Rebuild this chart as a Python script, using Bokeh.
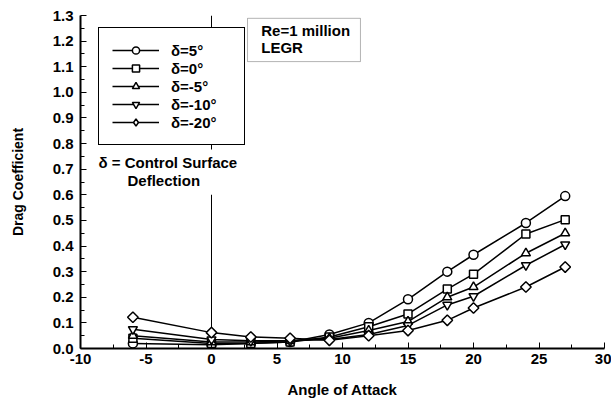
from bokeh.plotting import figure
from bokeh.models import (Range1d, FixedTicker, PrintfTickFormatter, Span, Label,
                          BoxAnnotation, Legend, LegendItem)
from bokeh.embed import file_html
from bokeh.resources import INLINE
import math

# ---- data ----
angle = [-6, 0, 3, 6, 9, 12, 15, 18, 20, 24, 27]
cd_d5 = [0.020, 0.015, 0.020, 0.025, 0.055, 0.100, 0.192, 0.300, 0.366, 0.490, 0.595]
cd_d0 = [0.040, 0.020, 0.020, 0.025, 0.045, 0.085, 0.135, 0.232, 0.290, 0.447, 0.503]
cd_dm5 = [0.050, 0.025, 0.025, 0.030, 0.040, 0.070, 0.105, 0.200, 0.240, 0.372, 0.450]
cd_dm10 = [0.075, 0.035, 0.030, 0.030, 0.035, 0.055, 0.090, 0.170, 0.204, 0.325, 0.406]
cd_dm20 = [0.122, 0.062, 0.045, 0.040, 0.032, 0.050, 0.070, 0.110, 0.158, 0.240, 0.318]

series_labels = ["δ=5°", "δ=0°", "δ=-5°", "δ=-10°", "δ=-20°"]
series_values = [cd_d5, cd_d0, cd_dm5, cd_dm10, cd_dm20]
series_markers = ["circle", "square", "triangle", "inverted_triangle", "square"]
series_angles = [0, 0, 0, 0, math.pi / 4]
series_sizes = [9, 8, 9, 9, 7.5]
legend_markers = ["circle", "square", "triangle", "inverted_triangle", "diamond"]

y_ticks = [0.0, 0.1, 0.2, 0.3, 0.4, 0.5, 0.6, 0.7, 0.8, 0.9, 1.0, 1.1, 1.2, 1.3]
y_minor = [0.05, 0.15, 0.25, 0.35, 0.45, 0.55, 0.65, 0.75, 0.85, 0.95, 1.05, 1.15, 1.25]
x_ticks = [-10, -5, 0, 5, 10, 15, 20, 25, 30]
x_minor = [-7.5, -2.5, 2.5, 7.5, 12.5, 17.5, 22.5, 27.5]

FONT = "Liberation Sans"
TXT = "15px"

p = figure(width=611, height=401, output_backend="svg", toolbar_location=None,
           x_range=Range1d(-10, 30), y_range=Range1d(0, 1.3), title=None,
           min_border_left=80, min_border_right=7, min_border_top=15, min_border_bottom=53)
p.outline_line_color = None
p.xgrid.visible = False
p.ygrid.visible = False

for ax, ticks, minor in ((p.xaxis[0], x_ticks, x_minor), (p.yaxis[0], y_ticks, y_minor)):
    ax.ticker = FixedTicker(ticks=ticks, minor_ticks=minor)
    ax.axis_line_width = 2
    ax.axis_line_color = "black"
    ax.major_tick_in = 6
    ax.major_tick_out = 0
    ax.minor_tick_in = 4
    ax.minor_tick_out = 0
    ax.major_tick_line_color = "black"
    ax.minor_tick_line_color = "black"
    ax.major_label_text_font = FONT
    ax.major_label_text_font_style = "bold"
    ax.major_label_text_font_size = "15px"
    ax.major_label_text_color = "black"
    ax.axis_label_text_font = FONT
    ax.axis_label_text_font_style = "bold"
    ax.axis_label_text_color = "black"

p.yaxis[0].formatter = PrintfTickFormatter(format="%.1f")
p.xaxis[0].formatter = PrintfTickFormatter(format="%d")
p.yaxis[0].axis_label = "Drag Coefficient"
p.xaxis[0].axis_label = "Angle of Attack"
p.yaxis[0].axis_label_text_font_size = "14px"
p.xaxis[0].axis_label_text_font_size = "15px"
p.yaxis[0].major_label_standoff = 7
p.xaxis[0].major_label_standoff = 5
p.yaxis[0].axis_label_standoff = 24
p.xaxis[0].axis_label_standoff = 14

vline = Span(location=0, dimension="height", line_color="black", line_width=1, level="underlay")
p.add_layout(vline)

items = []
for lab, vals, mk, ang, sz, lmk in zip(series_labels, series_values, series_markers,
                                       series_angles, series_sizes, legend_markers):
    r1 = p.line(angle, vals, line_color="black", line_width=1.5)
    r2 = p.scatter(angle, vals, marker=mk, size=sz, angle=ang, line_color="black",
                   line_width=1.5, fill_color="white")
    if lmk != mk:
        # legend-only marker renderer (no visible points)
        r3 = p.scatter([float("nan")], [float("nan")], marker=lmk, size=sz,
                       line_color="black", line_width=1.5, fill_color="white")
        items.append(LegendItem(label=lab, renderers=[r1, r3]))
    else:
        items.append(LegendItem(label=lab, renderers=[r1, r2]))

# white block behind the delta note
p.add_layout(BoxAnnotation(left=-8.70, right=2.6, bottom=0.60, top=0.777,
                           fill_color="white", fill_alpha=1.0, line_alpha=0, level="annotation"))
p.add_layout(Label(x=-8.63, y=0.728, text="δ = Control Surface", text_font=FONT,
                   text_font_style="bold", text_font_size=TXT, text_baseline="middle",
                   text_color="black"))
p.add_layout(Label(x=-6.41, y=0.656, text="Deflection", text_font=FONT,
                   text_font_style="bold", text_font_size=TXT, text_baseline="middle",
                   text_color="black"))

# Re box
p.add_layout(BoxAnnotation(left=2.75, right=11.37, bottom=1.12, top=1.289,
                           fill_color="white", fill_alpha=1.0, line_color="black",
                           line_width=1, level="annotation"))
p.add_layout(Label(x=3.8, y=1.242, text="Re=1  million", text_font=FONT,
                   text_font_style="bold", text_font_size=TXT, text_baseline="middle",
                   text_color="black"))
p.add_layout(Label(x=3.8, y=1.174, text="LEGR", text_font=FONT,
                   text_font_style="bold", text_font_size=TXT, text_baseline="middle",
                   text_color="black"))

legend = Legend(items=items, location=(18, 203))
legend.label_text_font = FONT
legend.label_text_font_style = "bold"
legend.label_text_font_size = TXT
legend.label_text_color = "black"
legend.glyph_width = 47
legend.glyph_height = 18
legend.label_height = 18
legend.label_width = 60
legend.label_standoff = 12
legend.spacing = 0
legend.padding = 13
legend.margin = 0
legend.border_line_color = "black"
legend.border_line_width = 1
legend.border_line_alpha = 1.0
legend.background_fill_color = "white"
legend.background_fill_alpha = 1.0
p.add_layout(legend)

open("out.html", "w").write(file_html(p, INLINE))
